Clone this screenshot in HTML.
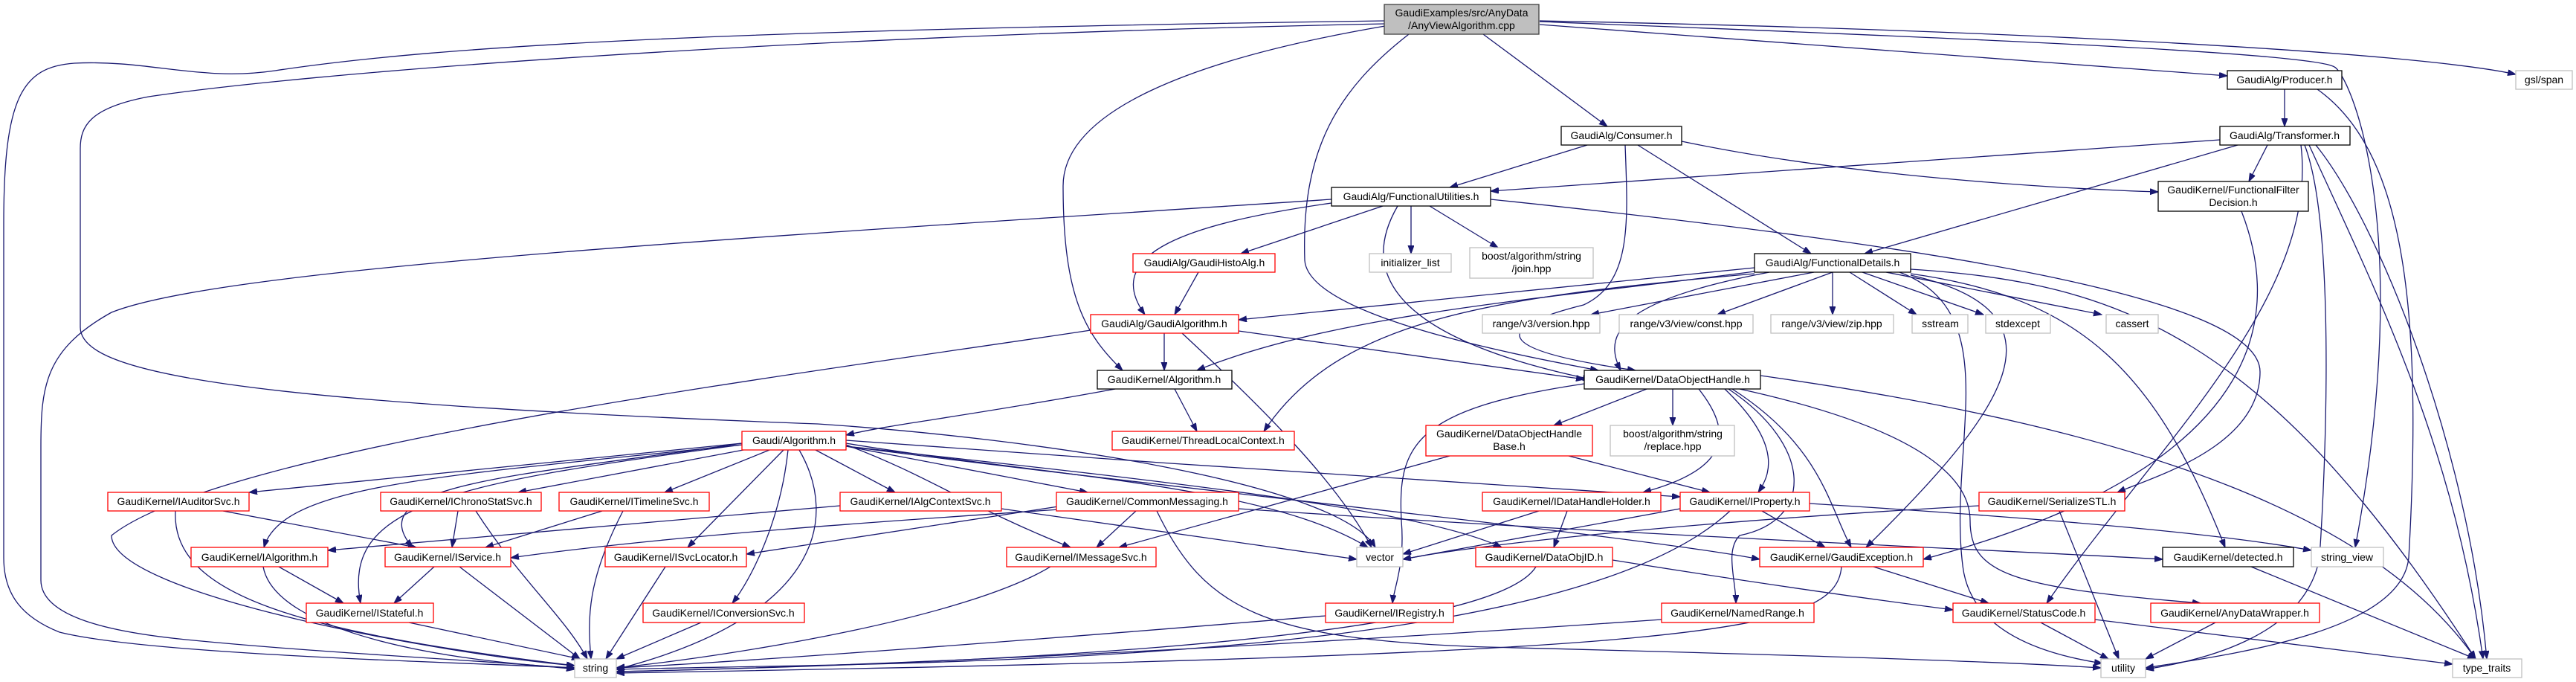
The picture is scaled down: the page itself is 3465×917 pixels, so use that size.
<!DOCTYPE html>
<html><head><meta charset="utf-8"><style>
html,body{margin:0;padding:0;background:#fff;}
svg{display:block;}
text{font-family:"Liberation Sans",sans-serif;font-size:14px;fill:#000;text-anchor:middle;}
.e path{fill:none;stroke:#191970;stroke-width:1.3;marker-end:url(#a);}
.b{fill:#fff;stroke:#000;stroke-width:1.3;}
.r{fill:#fff;stroke:#ff0000;stroke-width:1.3;}
.g{fill:#fff;stroke:#bfbfbf;stroke-width:1.3;}
</style></head><body>
<svg width="3465" height="917" viewBox="0 0 3465 917" xmlns="http://www.w3.org/2000/svg">
<defs><marker id="a" markerWidth="12" markerHeight="10" refX="11" refY="4" orient="auto" markerUnits="userSpaceOnUse"><path d="M0,0 L11,4 L0,8 z" fill="#191970" stroke="#191970"/></marker></defs>
<g class="e">
<path d="M1995,46 L2162,170"/>
<path d="M2071,33 L2996,102"/>
<path d="M2071,28 C2700,40 3250,70 3384,100"/>
<path d="M2071,29 C2600,50 3110,70 3140,90 C3160,100 3250,300 3168,736"/>
<path d="M1863,35 C1600,80 1430,150 1430,250 C1430,400 1460,450 1510,498"/>
<path d="M1895,46 C1800,120 1750,200 1755,350 C1760,420 2000,470 2150,498"/>
<path d="M1863,28 C1000,40 600,60 370,95 C270,110 200,80 100,85 C30,90 5,130 5,300 L5,750 C5,800 30,830 80,850 C200,880 600,890 773,898"/>
<path d="M1863,32 C1000,50 400,100 200,130 C120,145 108,170 108,200 L108,440 C108,500 300,540 1100,570 C1400,590 1800,650 1850,736"/>
<path d="M2135,195 L1950,252"/>
<path d="M2203,195 L2436,341"/>
<path d="M2262,190 C2500,240 2800,255 2903,258"/>
<path d="M2186,195 C2190,300 2195,380 2130,410 C2010,440 2000,470 2200,498"/>
<path d="M3073,120 L3073,170"/>
<path d="M3117,120 C3230,200 3260,400 3240,750 C3230,850 3000,880 2886,898"/>
<path d="M2986,188 L2005,257"/>
<path d="M3010,195 L2508,341"/>
<path d="M3050,195 L3025,244"/>
<path d="M3100,195 C3140,300 3130,600 3120,750 C3100,860 2950,890 2886,900"/>
<path d="M3106,195 C3200,400 3300,600 3340,886"/>
<path d="M3115,195 C3200,300 3320,600 3345,886"/>
<path d="M3095,195 C3120,400 2900,600 2753,811"/>
<path d="M3015,284 C3060,400 3080,620 2587,752"/>
<path d="M1791,268 C1000,320 300,360 150,420 C60,470 55,520 55,600 L55,780 C55,830 150,850 250,860 C450,880 700,890 773,900"/>
<path d="M1860,277 L1669,341"/>
<path d="M1898,277 L1898,341"/>
<path d="M1923,277 L2015,333"/>
<path d="M1791,273 C1600,300 1480,340 1540,423"/>
<path d="M1880,277 C1820,380 1900,460 2140,510"/>
<path d="M2005,268 C2600,330 3040,400 3040,500 C3040,600 2900,640 2848,662"/>
<path d="M1612,366 L1580,423"/>
<path d="M2360,360 L1666,430"/>
<path d="M2360,365 C2100,400 1800,420 1610,498"/>
<path d="M2380,366 C2200,400 2150,440 2180,498"/>
<path d="M2440,366 L2140,423"/>
<path d="M2465,366 L2310,423"/>
<path d="M2465,366 L2465,423"/>
<path d="M2488,366 L2578,423"/>
<path d="M2505,366 L2668,423"/>
<path d="M2537,366 L2827,423"/>
<path d="M2360,368 C2000,400 1800,430 1700,580"/>
<path d="M2570,370 C2790,420 2700,550 2510,736"/>
<path d="M2570,368 C2800,400 2900,500 2993,736"/>
<path d="M2570,362 C2850,380 3050,450 3330,886"/>
<path d="M2555,366 C2700,420 2620,600 2640,760 C2650,850 2750,880 2828,892"/>
<path d="M1566,448 L1566,498"/>
<path d="M1666,445 L2131,510"/>
<path d="M1467,444 C1100,500 300,600 150,720 C150,800 600,880 773,895"/>
<path d="M1590,448 C1700,550 1800,650 1845,736"/>
<path d="M1500,523 C1300,560 1200,570 1138,585"/>
<path d="M1580,523 L1610,580"/>
<path d="M2215,523 L2090,572"/>
<path d="M2250,523 L2250,572"/>
<path d="M2285,523 C2330,580 2330,630 2210,662"/>
<path d="M2320,523 C2400,600 2380,640 2365,662"/>
<path d="M2330,523 C2450,600 2460,680 2490,736"/>
<path d="M2325,523 C2440,600 2440,700 2340,720 C2320,740 2335,780 2335,811"/>
<path d="M2131,516 C1900,550 1880,600 1885,700 C1890,760 1875,790 1873,811"/>
<path d="M2340,523 C2600,580 2650,650 2650,700 C2650,770 2700,790 2960,811"/>
<path d="M2368,505 C2900,580 3200,700 3330,886"/>
<path d="M1950,613 L1505,736"/>
<path d="M2110,613 L2300,662"/>
<path d="M998,596 L335,662"/>
<path d="M1000,605 L697,662"/>
<path d="M1035,605 L894,662"/>
<path d="M1097,605 L1204,662"/>
<path d="M1138,600 L1463,662"/>
<path d="M998,598 C600,640 380,650 355,736"/>
<path d="M998,596 C700,640 480,650 555,736"/>
<path d="M1054,605 L925,736"/>
<path d="M998,598 C600,650 460,680 485,811"/>
<path d="M1060,605 C1050,700 1010,780 985,811"/>
<path d="M1075,605 C1130,700 1100,830 829,900"/>
<path d="M1138,598 C1250,640 1300,680 1440,736"/>
<path d="M1138,596 C1400,640 1700,650 1840,736"/>
<path d="M1138,592 C1500,620 2000,650 2260,668"/>
<path d="M1138,600 C1500,640 1900,680 2020,736"/>
<path d="M1138,600 C1600,660 2200,720 2367,752"/>
<path d="M300,687 L560,736"/>
<path d="M236,687 C230,800 400,850 773,895"/>
<path d="M616,687 L608,736"/>
<path d="M640,687 C700,780 760,830 790,886"/>
<path d="M810,687 L653,736"/>
<path d="M838,687 C790,780 790,830 795,886"/>
<path d="M1130,680 L441,740"/>
<path d="M1347,684 L1825,752"/>
<path d="M1528,687 L1475,736"/>
<path d="M1430,680 L1004,745"/>
<path d="M1440,684 C1200,700 900,720 687,750"/>
<path d="M1556,687 C1620,820 1700,860 2000,870 C2400,880 2700,890 2826,898"/>
<path d="M1666,684 C2200,720 2700,740 2909,752"/>
<path d="M375,762 L462,811"/>
<path d="M354,762 C370,850 600,890 773,898"/>
<path d="M584,762 L530,811"/>
<path d="M618,762 L780,886"/>
<path d="M895,762 L815,886"/>
<path d="M550,837 L780,886"/>
<path d="M943,837 L829,886"/>
<path d="M1413,762 C1300,830 1000,880 829,898"/>
<path d="M2070,687 L1887,745"/>
<path d="M2108,687 L2090,736"/>
<path d="M2260,684 L1887,752"/>
<path d="M2327,687 C2100,900 1200,890 829,900"/>
<path d="M2370,687 L2455,736"/>
<path d="M2434,677 C2800,700 3000,720 3109,740"/>
<path d="M2662,680 C2300,700 2000,730 1887,752"/>
<path d="M2770,687 L2850,886"/>
<path d="M2066,762 C2000,870 1200,895 829,903"/>
<path d="M2169,753 C2400,790 2550,810 2627,820"/>
<path d="M2477,762 C2470,850 2300,880 829,905"/>
<path d="M2520,762 L2675,811"/>
<path d="M1783,828 C1400,860 1000,890 829,898"/>
<path d="M2235,833 C1700,870 1200,895 829,903"/>
<path d="M2745,837 L2836,886"/>
<path d="M2818,833 L3299,893"/>
<path d="M2980,837 L2886,886"/>
<path d="M3028,762 L3330,886"/>
</g>
<g>
<rect x="1862" y="6" width="208" height="40" fill="#bfbfbf" stroke="#404040" stroke-width="1.3"/>
<text x="1966" y="22">GaudiExamples/src/AnyData</text><text x="1966" y="39">/AnyViewAlgorithm.cpp</text>
<rect class="b" x="2100" y="170" width="162" height="25"/><text x="2181" y="187">GaudiAlg/Consumer.h</text>
<rect class="b" x="2996" y="95" width="154" height="25"/><text x="3073" y="112">GaudiAlg/Producer.h</text>
<rect class="g" x="3384" y="95" width="76" height="25"/><text x="3422" y="112">gsl/span</text>
<rect class="b" x="2986" y="170" width="175" height="25"/><text x="3073" y="187">GaudiAlg/Transformer.h</text>
<rect class="b" x="1791" y="252" width="214" height="25"/><text x="1898" y="269">GaudiAlg/FunctionalUtilities.h</text>
<rect class="b" x="2903" y="244" width="202" height="40"/><text x="3004" y="260">GaudiKernel/FunctionalFilter</text><text x="3004" y="277">Decision.h</text>
<rect class="r" x="1524" y="341" width="191" height="25"/><text x="1620" y="358">GaudiAlg/GaudiHistoAlg.h</text>
<rect class="g" x="1842" y="341" width="110" height="25"/><text x="1897" y="358">initializer_list</text>
<rect class="g" x="1977" y="333" width="166" height="41"/><text x="2060" y="349">boost/algorithm/string</text><text x="2060" y="366">/join.hpp</text>
<rect class="b" x="2360" y="341" width="210" height="25"/><text x="2465" y="358">GaudiAlg/FunctionalDetails.h</text>
<rect class="r" x="1467" y="423" width="199" height="25"/><text x="1566" y="440">GaudiAlg/GaudiAlgorithm.h</text>
<rect class="g" x="1994" y="423" width="158" height="25"/><text x="2073" y="440">range/v3/version.hpp</text>
<rect class="g" x="2178" y="423" width="180" height="25"/><text x="2268" y="440">range/v3/view/const.hpp</text>
<rect class="g" x="2382" y="423" width="165" height="25"/><text x="2464" y="440">range/v3/view/zip.hpp</text>
<rect class="g" x="2572" y="423" width="75" height="25"/><text x="2610" y="440">sstream</text>
<rect class="g" x="2671" y="423" width="87" height="25"/><text x="2714" y="440">stdexcept</text>
<rect class="g" x="2833" y="423" width="70" height="25"/><text x="2868" y="440">cassert</text>
<rect class="b" x="1476" y="498" width="181" height="25"/><text x="1566" y="515">GaudiKernel/Algorithm.h</text>
<rect class="b" x="2131" y="498" width="237" height="25"/><text x="2250" y="515">GaudiKernel/DataObjectHandle.h</text>
<rect class="r" x="1496" y="580" width="245" height="25"/><text x="1618" y="597">GaudiKernel/ThreadLocalContext.h</text>
<rect class="r" x="1918" y="572" width="224" height="41"/><text x="2030" y="588">GaudiKernel/DataObjectHandle</text><text x="2030" y="605">Base.h</text>
<rect class="g" x="2166" y="572" width="167" height="41"/><text x="2250" y="588">boost/algorithm/string</text><text x="2250" y="605">/replace.hpp</text>
<rect class="r" x="998" y="580" width="140" height="25"/><text x="1068" y="597">Gaudi/Algorithm.h</text>
<rect class="r" x="145" y="662" width="190" height="25"/><text x="240" y="679">GaudiKernel/IAuditorSvc.h</text>
<rect class="r" x="512" y="662" width="216" height="25"/><text x="620" y="679">GaudiKernel/IChronoStatSvc.h</text>
<rect class="r" x="752" y="662" width="202" height="25"/><text x="853" y="679">GaudiKernel/ITimelineSvc.h</text>
<rect class="r" x="1130" y="662" width="217" height="25"/><text x="1238" y="679">GaudiKernel/IAlgContextSvc.h</text>
<rect class="r" x="1421" y="662" width="245" height="25"/><text x="1543" y="679">GaudiKernel/CommonMessaging.h</text>
<rect class="r" x="1994" y="662" width="240" height="25"/><text x="2114" y="679">GaudiKernel/IDataHandleHolder.h</text>
<rect class="r" x="2260" y="662" width="174" height="25"/><text x="2347" y="679">GaudiKernel/IProperty.h</text>
<rect class="r" x="2662" y="662" width="196" height="25"/><text x="2760" y="679">GaudiKernel/SerializeSTL.h</text>
<rect class="r" x="257" y="736" width="184" height="26"/><text x="349" y="754">GaudiKernel/IAlgorithm.h</text>
<rect class="r" x="518" y="736" width="169" height="26"/><text x="602" y="754">GaudiKernel/IService.h</text>
<rect class="r" x="814" y="736" width="190" height="26"/><text x="909" y="754">GaudiKernel/ISvcLocator.h</text>
<rect class="r" x="1354" y="736" width="201" height="26"/><text x="1454" y="754">GaudiKernel/IMessageSvc.h</text>
<rect class="g" x="1825" y="736" width="62" height="26"/><text x="1856" y="754">vector</text>
<rect class="r" x="1985" y="736" width="184" height="26"/><text x="2077" y="754">GaudiKernel/DataObjID.h</text>
<rect class="r" x="2367" y="736" width="220" height="26"/><text x="2477" y="754">GaudiKernel/GaudiException.h</text>
<rect class="b" x="2909" y="736" width="176" height="26"/><text x="2997" y="754">GaudiKernel/detected.h</text>
<rect class="g" x="3109" y="736" width="97" height="26"/><text x="3157" y="754">string_view</text>
<rect class="r" x="412" y="811" width="171" height="26"/><text x="497" y="829">GaudiKernel/IStateful.h</text>
<rect class="r" x="865" y="811" width="217" height="26"/><text x="973" y="829">GaudiKernel/IConversionSvc.h</text>
<rect class="r" x="1783" y="811" width="172" height="26"/><text x="1869" y="829">GaudiKernel/IRegistry.h</text>
<rect class="r" x="2235" y="811" width="205" height="26"/><text x="2337" y="829">GaudiKernel/NamedRange.h</text>
<rect class="r" x="2627" y="811" width="191" height="26"/><text x="2722" y="829">GaudiKernel/StatusCode.h</text>
<rect class="r" x="2893" y="811" width="227" height="26"/><text x="3006" y="829">GaudiKernel/AnyDataWrapper.h</text>
<rect class="g" x="773" y="886" width="56" height="25"/><text x="801" y="903">string</text>
<rect class="g" x="2826" y="886" width="60" height="25"/><text x="2856" y="903">utility</text>
<rect class="g" x="3299" y="886" width="93" height="25"/><text x="3345" y="903">type_traits</text>
</g>
</svg>
</body></html>
